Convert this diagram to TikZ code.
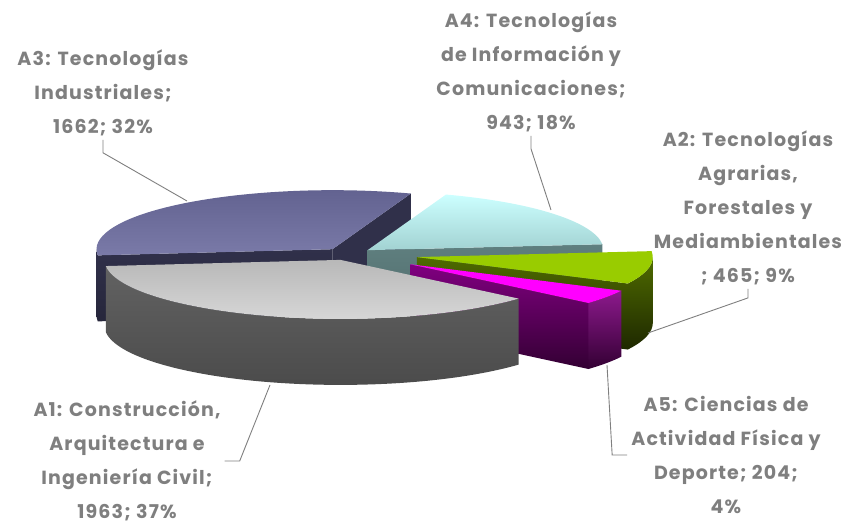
\documentclass[tikz,border=0pt]{standalone}
\usepackage{fontspec}
\setmainfont{Poppins}[LetterSpace=6]
\usetikzlibrary{calc}

\definecolor{lblgray}{HTML}{7F7F7F}
\definecolor{aonetopA}{HTML}{B8B8B8}
\definecolor{aonetopB}{HTML}{D8D8D8}
\definecolor{aonesideA}{HTML}{626262}
\definecolor{aonesideB}{HTML}{4A4A4A}
\definecolor{athreetopA}{HTML}{60608E}
\definecolor{athreetopB}{HTML}{7A7AA8}
\definecolor{athreeside}{HTML}{30304A}
\definecolor{afourtopA}{HTML}{CCFFFF}
\definecolor{afourtopB}{HTML}{A2D2D2}
\definecolor{afourside}{HTML}{5F7F7F}
\definecolor{atwotop}{HTML}{99CC00}
\definecolor{atwosideA}{HTML}{4F6B00}
\definecolor{atwosideB}{HTML}{1E2800}
\definecolor{afivetop}{HTML}{FF00FF}
\definecolor{afivesideA}{HTML}{800080}
\definecolor{afivesideB}{HTML}{330033}

\tikzstyle{lbl}=[text=lblgray, font=\bfseries\fontsize{19}{34}\selectfont, align=center, inner sep=4pt]
\tikzstyle{leader}=[draw, lblgray, line width=0.9pt]
\tikzstyle{rim}=[x radius=236pt, y radius=59pt]

\begin{document}
\begin{tikzpicture}[x=1pt, y=1pt]
	\useasboundingbox (0,0) rectangle (844,524);
	% slice centres (top faces)
	\coordinate (O1) at (340.5,264.1);
	\coordinate (O3) at (332.5,274.8);
	\coordinate (O4) at (367.6,273.8);
	\coordinate (O2) at (416.8,266.9);
	\coordinate (O5) at (410.3,259.7);

	% A3
	\path[top color=athreeside, bottom color=athreeside!80!black] ($(O3)+(180:236pt and 59pt)$) arc[rim, start angle=180, end angle=186] -- ++(0,-66) arc[rim, start angle=186, end angle=180] -- cycle;
	\path[fill=athreeside] (O3) -- ($(O3)+(70.6:236pt and 59pt)$) -- ++(0,-66) -- ($(O3)+(0,-66)$) -- cycle;
	\path[top color=athreeside, bottom color=athreeside!80!black] (O3) -- ($(O3)+(186:236pt and 59pt)$) -- ++(0,-66) -- ($(O3)+(0,-66)$) -- cycle;
	\path[top color=athreetopA, bottom color=athreetopB] (O3) -- ($(O3)+(70.6:236pt and 59pt)$) arc[rim, start angle=70.6, end angle=186] -- cycle;

	% A4
	\path[top color=afourside, bottom color=afourside!85!black] (O4) -- ($(O4)+(5.8:236pt and 59pt)$) -- ++(0,-66) -- ($(O4)+(0,-66)$) -- cycle;
	\path[top color=afourtopA, bottom color=afourtopB] (O4) -- ($(O4)+(5.8:236pt and 59pt)$) arc[rim, start angle=5.8, end angle=70.6] -- cycle;

	% A2
	\path[top color=atwosideA, bottom color=atwosideB] ($(O2)+(-26.6:236pt and 59pt)$) arc[rim, start angle=-26.6, end angle=0] -- ++(0,-66) arc[rim, start angle=0, end angle=-26.6] -- cycle;
	\path[top color=atwosideA, bottom color=atwosideB] (O2) -- ($(O2)+(-26.6:236pt and 59pt)$) -- ++(0,-66) -- ($(O2)+(0,-66)$) -- cycle;
	\path[fill=atwotop] (O2) -- ($(O2)+(-26.6:236pt and 59pt)$) arc[rim, start angle=-26.6, end angle=5.8] -- cycle;

	% A5
	\path[top color=afivesideA!90!white, bottom color=afivesideB] ($(O5)+(-41:236pt and 59pt)$) arc[rim, start angle=-41, end angle=-26.6] -- ++(0,-66) arc[rim, start angle=-26.6, end angle=-41] -- cycle;
	\path[top color=afivesideA, bottom color=afivesideB] (O5) -- ($(O5)+(-41:236pt and 59pt)$) -- ++(0,-66) -- ($(O5)+(0,-66)$) -- cycle;
	\path[fill=afivetop] (O5) -- ($(O5)+(-41:236pt and 59pt)$) arc[rim, start angle=-41, end angle=-26.6] -- cycle;

	% A1
	\path[top color=aonesideA, bottom color=aonesideB] ($(O1)+(-174:236pt and 59pt)$) arc[rim, start angle=-174, end angle=-41] -- ++(0,-66) arc[rim, start angle=-41, end angle=-174] -- cycle;
	\path[top color=aonetopA, bottom color=aonetopB] (O1) -- ($(O1)+(-174:236pt and 59pt)$) arc[rim, start angle=-174, end angle=-41] -- cycle;

	% labels
	\node[lbl] (lblA3) at (103,431.5) {A3: Tecnologías\\Industriales;\\1662; 32\%};
	\node[lbl] (lblA4) at (531,452.5) {A4: Tecnologías\\de Información y\\Comunicaciones;\\943; 18\%};
	\node[lbl] (lblA2) at (748,316.4) {A2: Tecnologías\\Agrarias,\\Forestales y\\Mediambientales\\; 465; 9\%};
	\node[lbl] (lblA5) at (726,69) {A5: Ciencias de\\Actividad Física y\\Deporte; 204;\\4\%};
	\node[lbl, inner sep=1pt] (lblA1) at (127,63) {A1: Construcción,\\Arquitectura e\\Ingeniería Civil;\\1963; 37\%};

	% leader lines
	\coordinate (tipA3) at (187,323);
	\coordinate (tipA4) at (551,314);
	\coordinate (tipA2) at (648,191);
	\coordinate (tipA5) at (607,159);
	\coordinate (tipA1) at (270,139);
	\draw[leader] (lblA3.south) -- ++(0,-13) -- (tipA3);
	\draw[leader] (lblA4.south) -- ++(0,-13) -- (tipA4);
	\draw[leader] (lblA2.south) -- ++(0,-9) -- (tipA2);
	\draw[leader] (tipA5) -- ([xshift=-15pt]lblA5.west) -- (lblA5.west);
	\draw[leader] (tipA1) -- ([xshift=18pt]lblA1.east) -- ([xshift=3pt]lblA1.east);
\end{tikzpicture}
\end{document}
